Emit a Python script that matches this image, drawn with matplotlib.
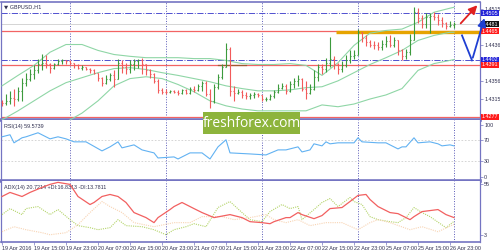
import matplotlib
matplotlib.use('Agg')
import matplotlib.pyplot as plt
from matplotlib.patches import Rectangle

# ---------------- data ----------------
bar_t = list(range(7, 121))
first_open = 1.4310
close = [1.4308, 1.4312, 1.4319, 1.4316, 1.4334, 1.4352, 1.4361, 1.4370, 1.4379, 1.4392,
         1.4396, 1.4392, 1.4385, 1.4392, 1.4399, 1.4401, 1.4399, 1.4396, 1.4390, 1.4385,
         1.4386, 1.4383, 1.4379, 1.4374, 1.4363, 1.4352, 1.4359, 1.4368, 1.4361, 1.4396,
         1.4387, 1.4383, 1.4392, 1.4399, 1.4401, 1.4392, 1.4379, 1.4370, 1.4356, 1.4336,
         1.4332, 1.4331, 1.4334, 1.4332, 1.4330, 1.4336, 1.4330, 1.4339, 1.4336, 1.4345,
         1.4352, 1.4327, 1.4312, 1.4343, 1.4365, 1.4387, 1.4427, 1.4334, 1.4330, 1.4332,
         1.4325, 1.4323, 1.4324, 1.4327, 1.4325, 1.4316, 1.4317, 1.4323, 1.4332, 1.4341,
         1.4345, 1.4334, 1.4348, 1.4356, 1.4361, 1.4339, 1.4330, 1.4338, 1.4365, 1.4387,
         1.4383, 1.4396, 1.4405, 1.4392, 1.4381, 1.4390, 1.4401, 1.4410, 1.4414, 1.4463,
         1.4450, 1.4441, 1.4436, 1.4434, 1.4430, 1.4437, 1.4443, 1.4436, 1.4445, 1.4423,
         1.4410, 1.4419, 1.4445, 1.4507, 1.4494, 1.4481, 1.4496, 1.4498, 1.4497, 1.4490,
         1.4483, 1.4476, 1.4480, 1.4481]
high = [1.4314, 1.4327, 1.4334, 1.4339, 1.4343, 1.4363, 1.4374, 1.4383, 1.4390, 1.4405,
        1.4416, 1.4412, 1.4396, 1.4396, 1.4405, 1.4405, 1.4403, 1.4401, 1.4396, 1.4392,
        1.4390, 1.4387, 1.4385, 1.4381, 1.4374, 1.4365, 1.4368, 1.4374, 1.4379, 1.4405,
        1.4403, 1.4396, 1.4401, 1.4405, 1.4405, 1.4407, 1.4394, 1.4383, 1.4374, 1.4359,
        1.4341, 1.4339, 1.4336, 1.4336, 1.4336, 1.4339, 1.4339, 1.4343, 1.4345, 1.4350,
        1.4356, 1.4356, 1.4339, 1.4350, 1.4372, 1.4394, 1.4439, 1.4430, 1.4345, 1.4339,
        1.4336, 1.4332, 1.4330, 1.4332, 1.4330, 1.4325, 1.4321, 1.4327, 1.4336, 1.4348,
        1.4352, 1.4350, 1.4356, 1.4363, 1.4368, 1.4363, 1.4356, 1.4348, 1.4379, 1.4394,
        1.4392, 1.4407, 1.4452, 1.4410, 1.4396, 1.4399, 1.4414, 1.4423, 1.4425, 1.4470,
        1.4463, 1.4456, 1.4445, 1.4443, 1.4441, 1.4447, 1.4454, 1.4456, 1.4452, 1.4447,
        1.4427, 1.4427, 1.4459, 1.4518, 1.4516, 1.4501, 1.4505, 1.4505, 1.4507, 1.4503,
        1.4496, 1.4485, 1.4487, 1.4485]
low = [1.4301, 1.4303, 1.4305, 1.4301, 1.4312, 1.4312, 1.4345, 1.4356, 1.4361, 1.4374,
       1.4379, 1.4385, 1.4374, 1.4383, 1.4390, 1.4394, 1.4394, 1.4392, 1.4385, 1.4381,
       1.4379, 1.4379, 1.4374, 1.4370, 1.4356, 1.4345, 1.4348, 1.4356, 1.4343, 1.4365,
       1.4374, 1.4372, 1.4374, 1.4379, 1.4385, 1.4372, 1.4368, 1.4363, 1.4352, 1.4330,
       1.4327, 1.4327, 1.4330, 1.4330, 1.4325, 1.4327, 1.4327, 1.4327, 1.4332, 1.4334,
       1.4334, 1.4323, 1.4296, 1.4307, 1.4339, 1.4361, 1.4387, 1.4323, 1.4312, 1.4327,
       1.4319, 1.4316, 1.4316, 1.4319, 1.4321, 1.4312, 1.4312, 1.4314, 1.4319, 1.4330,
       1.4339, 1.4327, 1.4332, 1.4341, 1.4345, 1.4334, 1.4316, 1.4327, 1.4336, 1.4356,
       1.4372, 1.4376, 1.4387, 1.4383, 1.4372, 1.4376, 1.4387, 1.4396, 1.4405, 1.4412,
       1.4441, 1.4432, 1.4430, 1.4427, 1.4423, 1.4425, 1.4430, 1.4430, 1.4430, 1.4412,
       1.4401, 1.4405, 1.4412, 1.4445, 1.4483, 1.4472, 1.4472, 1.4461, 1.4490, 1.4479,
       1.4474, 1.4470, 1.4474, 1.4472]

band_t = [7, 11, 15, 19, 23, 27, 31, 35, 39, 43, 47, 51, 55, 59, 63, 67, 71, 75, 79, 83,
          87, 91, 95, 99, 103, 107, 111, 115, 119, 120]
bb_upper = [1.4345, 1.4368, 1.4390, 1.4419, 1.4436, 1.4436, 1.4423, 1.4414, 1.4410, 1.4407,
            1.4407, 1.4407, 1.4405, 1.4405, 1.4401, 1.4394, 1.4392, 1.4392, 1.4394, 1.4390,
            1.4368, 1.4396, 1.4434, 1.4461, 1.4467, 1.4470, 1.4485, 1.4507, 1.4516, 1.4518]
bb_mid = [1.4270, 1.4290, 1.4312, 1.4334, 1.4352, 1.4363, 1.4374, 1.4383, 1.4385, 1.4381,
          1.4374, 1.4368, 1.4361, 1.4354, 1.4345, 1.4339, 1.4334, 1.4334, 1.4336, 1.4341,
          1.4343, 1.4356, 1.4374, 1.4392, 1.4407, 1.4423, 1.4445, 1.4456, 1.4463, 1.4463]
lower_t = band_t[4:]
bb_lower = [1.4265, 1.4285, 1.4312, 1.4345, 1.4361, 1.4365, 1.4361, 1.4348, 1.4332, 1.4312,
            1.4301, 1.4294, 1.4290, 1.4290, 1.4290, 1.4290, 1.4303, 1.4299, 1.4305, 1.4316,
            1.4325, 1.4339, 1.4379, 1.4394, 1.4401, 1.4403]

rsi_t = [7, 9, 10, 12, 13, 16, 19, 21, 23, 25, 28, 32, 34, 36, 37, 40, 42, 45, 46, 50, 51,
         54, 57, 59, 61, 63, 64, 69, 73, 76, 78, 81, 82, 84, 85, 87, 88, 89, 91, 93, 95, 96,
         97, 101, 103, 104, 106, 107, 108, 110, 111, 114, 116, 117, 119, 120]
rsi_v = [76.9, 80.8, 65.4, 75.0, 76.9, 84.6, 73.0, 76.9, 73.0, 67.3, 67.3, 50.0, 57.7, 67.3,
         55.8, 61.5, 51.9, 46.2, 36.5, 38.5, 34.6, 46.2, 46.2, 34.6, 57.7, 71.2, 46.2, 44.2,
         42.3, 51.9, 51.9, 57.7, 48.0, 51.9, 63.5, 59.6, 67.3, 63.5, 65.4, 65.4, 65.4, 75.0,
         67.3, 65.4, 65.4, 61.5, 53.8, 57.7, 57.7, 75.0, 65.4, 67.3, 63.5, 59.6, 61.5, 59.57]

adx_t = [7, 9, 12, 14, 17, 19, 21, 24, 26, 29, 30, 32, 34, 36, 38, 40, 43, 45, 46, 49, 50,
         52, 55, 57, 60, 64, 67, 69, 72, 74, 75, 78, 79, 81, 82, 85, 87, 89, 92, 94, 96, 98,
         99, 101, 104, 106, 109, 110, 112, 116, 118, 120]
adx_v = [42.5, 46.7, 42.5, 46.7, 51.9, 55.0, 57.1, 55.0, 42.5, 34.2, 36.3, 42.5, 44.6, 42.5,
         36.3, 25.9, 20.7, 15.5, 20.7, 29.0, 32.1, 36.3, 30.0, 25.9, 20.7, 23.8, 20.7, 16.5,
         15.5, 14.4, 16.5, 20.7, 20.7, 25.9, 23.8, 19.6, 22.8, 30.0, 31.1, 37.3, 43.6, 44.6,
         39.4, 32.1, 25.9, 24.8, 18.6, 21.7, 26.9, 29.0, 23.8, 20.72]
pdi_t = [7, 9, 12, 13, 16, 19, 21, 24, 26, 29, 31, 34, 36, 38, 42, 45, 48, 50, 53, 55, 58,
         61, 64, 67, 69, 72, 74, 77, 79, 81, 82, 85, 87, 89, 91, 94, 95, 97, 99, 101, 104,
         106, 108, 110, 112, 114, 118, 120]
pdi_v = [23.8, 30.0, 23.8, 30.0, 32.1, 23.8, 29.0, 18.6, 12.4, 10.3, 8.2, 10.3, 18.6, 12.4,
         11.3, 8.2, 3.0, 8.2, 11.3, 14.4, 11.3, 31.1, 37.3, 25.9, 18.6, 16.5, 26.9, 34.2,
         30.0, 32.1, 18.6, 29.0, 36.3, 40.4, 32.1, 41.5, 37.3, 34.2, 21.7, 18.6, 16.5, 15.5,
         20.7, 31.1, 25.9, 21.7, 10.3, 16.83]
mdi_t = [7, 10, 13, 17, 19, 23, 26, 29, 32, 34, 37, 40, 45, 50, 54, 57, 62, 65, 69, 73, 75,
         78, 81, 84, 88, 92, 96, 99, 101, 104, 109, 112, 116, 120]
mdi_v = [6.1, 11.3, 8.2, 5.1, 3.0, 5.1, 13.4, 25.9, 37.3, 32.1, 25.9, 15.5, 11.3, 15.5, 15.5,
         21.7, 21.7, 18.6, 20.7, 23.8, 18.6, 15.5, 18.6, 12.4, 15.5, 15.5, 8.2, 15.5, 18.6,
         15.5, 8.2, 11.3, 6.1, 13.78]

support_red = [1.4465, 1.4391, 1.4277]
levels_blue = [1.4505, 1.4402]
current_price = 1.4481
price_ticks = [1.4515, 1.4436, 1.4356, 1.4315]
day_sep_t = [24, 48, 72, 96, 120]
xlabel_t = [7, 15, 23, 31, 39, 47, 55, 63, 71, 79, 87, 95, 103, 111, 119]
xlabel_txt = ['19 Apr 2016', '19 Apr 15:00', '19 Apr 23:00', '20 Apr 07:00', '20 Apr 15:00',
              '20 Apr 23:00', '21 Apr 07:00', '21 Apr 15:00', '21 Apr 23:00', '22 Apr 07:00',
              '22 Apr 15:00', '22 Apr 23:00', '25 Apr 07:00', '25 Apr 15:00', '26 Apr 23:00']

# ---------------- figure ----------------
plt.rcParams['font.family'] = ['Liberation Sans', 'DejaVu Sans']
FS = 3.9
fig = plt.figure(figsize=(5, 2.5), dpi=100)
fig.patch.set_facecolor('white')
L, W = 1 / 500, 479 / 500
ax = fig.add_axes([L, 1 - 120 / 250, W, 118 / 250])
ax_r = fig.add_axes([L, 1 - 181 / 250, W, 61 / 250])
ax_a = fig.add_axes([L, 1 - 242 / 250, W, 61 / 250])

XL = (6.75, 126.5)
frame = '#7474c2'
lab_col = '#303050'
for a in (ax, ax_r, ax_a):
    a.set_xlim(*XL)
    for s in a.spines.values():
        s.set_color(frame)
        s.set_linewidth(0.9)
    a.spines['top'].set_visible(False)
    a.spines['bottom'].set_linewidth(2.6)
    a.yaxis.tick_right()
    a.tick_params(axis='y', labelsize=FS, length=2, width=0.5, pad=1,
                  colors=frame, labelcolor=lab_col)
    a.tick_params(axis='x', bottom=False, labelbottom=False)
    for t in day_sep_t:
        a.axvline(t, color='#5a5ab8', lw=0.7, ls=(0, (1, 1.6)), zorder=1)
ax.spines['top'].set_visible(True)
ax.spines['top'].set_linewidth(1.2)
ax_a.spines['bottom'].set_linewidth(1.2)

# main price panel
ax.set_ylim(1.42698, 1.45296)
ax.set_yticks(price_ticks)
ax.set_yticklabels([f'{v:.4f}' for v in price_ticks])

for v in support_red:
    ax.axhline(v, color='#f26464', lw=0.9, zorder=2)
for v in levels_blue:
    ax.axhline(v, color='#5050d0', lw=0.7, ls='-.', zorder=2)
ax.axhline(current_price, color='#d4d4d4', lw=0.7, zorder=1.5)
ax.plot([90.5, 126.9], [1.4463, 1.4463], color='#e6a400', lw=2.4, zorder=2.2, clip_on=False,
        solid_capstyle='butt')
ax.plot([61, 68], [1.4391, 1.4391], color='#a05a30', lw=0.9, zorder=2.3)

ax.plot(band_t, bb_upper, color='#8fd6a6', lw=0.8, zorder=3)
ax.plot(band_t, bb_mid, color='#8fd6a6', lw=0.8, zorder=3)
ax.plot(lower_t, bb_lower, color='#8fd6a6', lw=0.8, zorder=3)

opens = [first_open] + close[:-1]
for t, o, h, l, c in zip(bar_t, opens, high, low, close):
    h = max(h, o, c)
    l = min(l, o, c)
    if abs(c - o) < 0.00005:
        col = '#202020'
    elif c > o:
        col = '#3c9a3c'
    else:
        col = '#f25a5a'
    ax.vlines(t, l, h, color=col, lw=0.8, zorder=4)
    ax.hlines(o, t - 0.35, t, color=col, lw=0.8, zorder=4)
    ax.hlines(c, t, t + 0.35, color=col, lw=0.8, zorder=4)

ytr = ax.get_yaxis_transform()
boxes = [(1.4505, '#2424d8'), (1.4481, '#101010'), (1.4465, '#ff1a1a'),
         (1.4402, '#2424d8'), (1.4391, '#ff1a1a'), (1.4277, '#ff1a1a')]
for v, fc in boxes:
    ax.text(1.003, v, f'{v:.4f}', transform=ytr, ha='left', va='center', fontsize=FS,
            color='white', zorder=10, clip_on=False,
            bbox=dict(boxstyle='square,pad=0.12', fc=fc, ec='none'))

ax.text(0.006, 0.955, '\u25bc GBPUSD,H1', transform=ax.transAxes, fontsize=FS,
        color=lab_col, va='center', ha='left', family=['DejaVu Sans'])

# arrows
ax.annotate('', xy=(126.3, 1.4527), xytext=(121.2, 1.4478),
            arrowprops=dict(arrowstyle='-|>,head_length=0.5,head_width=0.25', color='#e02020',
                            lw=1.3), annotation_clip=False, zorder=12)
ax.plot([122.0, 124.5], [1.4456, 1.4401], color='#1f3fd2', lw=1.3, zorder=12, clip_on=False)
ax.annotate('', xy=(127.8, 1.4500), xytext=(124.5, 1.4401),
            arrowprops=dict(arrowstyle='-|>,head_length=0.5,head_width=0.25', color='#1f3fd2',
                            lw=1.3), annotation_clip=False, zorder=12)

# RSI panel
ax_r.set_ylim(-7.5, 109)
ax_r.set_yticks([100, 70, 30, 0])
for v in (70, 30):
    ax_r.axhline(v, color='#cfcfcf', lw=0.6, ls=(0, (2, 2)), zorder=1)
ax_r.plot(rsi_t, rsi_v, color='#62b2f2', lw=0.8, zorder=3)
ax_r.text(0.006, 0.9, 'RSI(14) 59.5739', transform=ax_r.transAxes, fontsize=FS,
          color=lab_col, va='center', ha='left')

# ADX panel
ax_a.set_ylim(-4.5, 58.5)
ax_a.set_yticks([55, 3])
ax_a.plot(adx_t, adx_v, color='#f26060', lw=0.9, zorder=4)
ax_a.plot(pdi_t, pdi_v, color='#b4d46a', lw=0.8, ls=(0, (1, 1)), zorder=3)
ax_a.plot(mdi_t, mdi_v, color='#f8d4b4', lw=0.8, ls=(0, (1, 1)), zorder=3)
ax_a.text(0.006, 0.9, 'ADX(14) 20.7214 +DI:16.8313 -DI:13.7811', transform=ax_a.transAxes,
          fontsize=FS, color=lab_col, va='center', ha='left')
ax_a.set_xticks(xlabel_t)
ax_a.set_xticklabels(xlabel_txt, ha='left')
ax_a.tick_params(axis='x', bottom=True, labelbottom=True, labelsize=FS, length=2,
                 width=0.5, pad=0.8, colors=frame, labelcolor=lab_col)

# watermark
fig.patches.append(Rectangle((203 / 500, 1 - 134 / 250), 97 / 500, 22 / 250,
                             transform=fig.transFigure, fc='#8db43c', ec='none', zorder=20))
fig.text(251.5 / 500, 1 - 123.5 / 250, 'freshforex.com', ha='center', va='center',
         fontsize=10, color='white', family=['Open Sans', 'DejaVu Sans'], zorder=21)

fig.savefig('out.png', dpi=100, facecolor='white')
